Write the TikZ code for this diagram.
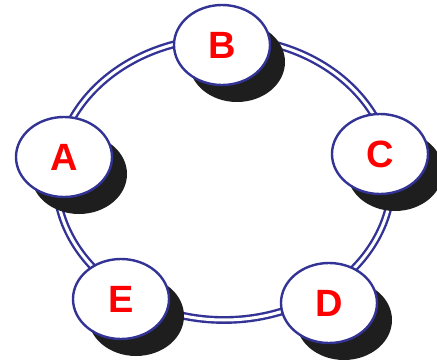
\documentclass[tikz,border=0pt]{standalone}
\usepackage{fontspec}
\setmainfont{Liberation Sans}
\usetikzlibrary{shapes.geometric, shadows}
\definecolor{ringblue}{RGB}{51,51,150}
\definecolor{shade}{RGB}{30,30,30}

\begin{document}
\begin{tikzpicture}[x=1pt, y=-1pt,
    station/.style={ellipse, draw=ringblue, line width=2.4pt, fill=white,
        minimum width=96pt, minimum height=80pt, inner sep=0pt,
        font=\fontsize{38}{38}\selectfont\bfseries, text=red,
        drop shadow={shadow xshift=15pt, shadow yshift=-17pt, fill=shade, opacity=1}},
    ring/.style={draw=ringblue, line width=2.4pt, double=white, double distance=3pt}]
    \useasboundingbox (0, 0) rectangle (437, 364);

    \coordinate (mid) at (224, 179);
    \draw[ring] (mid) ellipse [x radius=168, y radius=141];

    \node[station] (A) at (64, 157) {A};
    \node[station] (B) at (222, 45) {B};
    \node[station] (C) at (380, 154) {C};
    \node[station] (D) at (329, 303) {D};
    \node[station] (E) at (121, 299) {E};
\end{tikzpicture}
\end{document}
